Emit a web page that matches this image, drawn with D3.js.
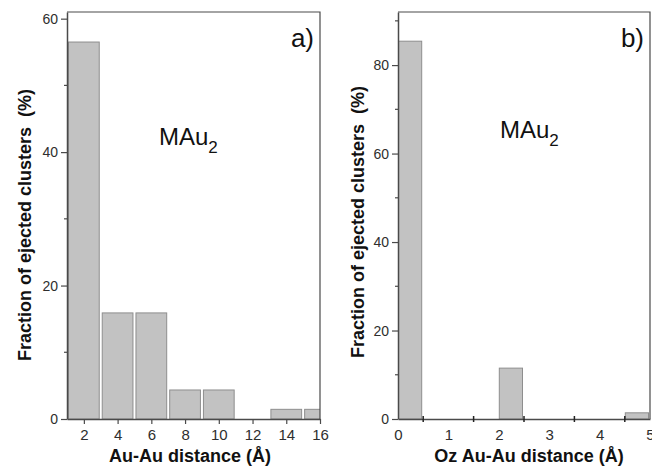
<!DOCTYPE html>
<html>
<head>
<meta charset="utf-8">
<script src="https://cdn.jsdelivr.net/npm/d3@7"></script>
<style>
  body { margin: 0; background: #fff; }
  svg { display: block; font-family: Arial, "Liberation Sans", sans-serif; }
</style>
</head>
<body>
<div id="chart"></div>
<script>
// panel a) Au-Au distance histogram
const distA = [2, 4, 6, 8, 10, 12, 14, 16];
const fracA = [56.5, 15.9, 15.9, 4.35, 4.35, 0, 1.45, 1.45];
const xTicksA = [2, 4, 6, 8, 10, 12, 14, 16];
const yTicksA = [0, 20, 40, 60];
const yMinorA = [10, 30, 50];

// panel b) Oz Au-Au distance histogram (bin starts, width 0.5)
const ozB = [0, 0.5, 1, 1.5, 2, 2.5, 3, 3.5, 4, 4.5];
const fracB = [85.4, 0, 0, 0, 11.5, 0, 0, 0, 0, 1.4];
const xTicksB = [0, 1, 2, 3, 4, 5];
const xMinorB = [0.5, 1.5, 2.5, 3.5, 4.5];
const yTicksB = [0, 20, 40, 60, 80];
const yMinorB = [10, 30, 50, 70, 90];

const width = 652;
const height = 468;
const plotTop = 12, plotBottom = 419;

const svg = d3.select("#chart")
              .append("svg")
              .attr("width", width)
              .attr("height", height);

const axisColor = "#4a4a4a";
const textColor = "#2e2e2e";

const drawPanel = (opt) => {
  const x = d3.scaleLinear().domain(opt.xDomain).range([opt.left, opt.right]);
  const y = d3.scaleLinear().domain(opt.yDomain).range([plotBottom, plotTop]);
  const g = svg.append("g");

  g.append("clipPath")
   .attr("id", "clip-" + opt.id)
   .append("rect")
   .attr("x", opt.left)
   .attr("y", plotTop)
   .attr("width", opt.right - opt.left)
   .attr("height", plotBottom - plotTop);

  // bars
  g.append("g")
   .attr("clip-path", `url(#clip-${opt.id})`)
   .selectAll("rect")
   .data(opt.bars.filter(d => d.v > 0))
   .enter()
   .append("rect")
   .attr("x", d => x(d.x0) + opt.gapL)
   .attr("y", d => y(d.v))
   .attr("width", d => x(d.x1) - x(d.x0) - opt.gapL - opt.gapR)
   .attr("height", d => y(0) - y(d.v))
   .attr("fill", "#c2c2c2")
   .attr("stroke", "#8e8e8e")
   .attr("stroke-width", 1);

  // frame (top and right)
  g.append("path")
   .attr("d", `M${opt.left},${plotTop}H${opt.right}V${plotBottom}`)
   .attr("fill", "none")
   .attr("stroke", axisColor)
   .attr("stroke-width", 1.2);

  // x axis
  const xAxis = g.append("g")
                 .attr("transform", `translate(0,${plotBottom})`)
                 .call(d3.axisBottom(x)
                         .tickValues(opt.xTicks)
                         .tickFormat(d3.format("d"))
                         .tickSize(opt.xTickSize)
                         .tickSizeOuter(0)
                         .tickPadding(opt.xTickSize > 0 ? 5 : 10));
  xAxis.select(".domain").attr("stroke", axisColor).attr("stroke-width", 1.5);
  xAxis.selectAll(".tick line").attr("stroke", axisColor).attr("stroke-width", 1.2);
  xAxis.selectAll("text").attr("fill", textColor).style("font-size", "15px");

  if (opt.xMinor) {
    g.selectAll(".xminor")
     .data(opt.xMinor)
     .enter()
     .append("line")
     .attr("x1", d => x(d)).attr("x2", d => x(d))
     .attr("y1", plotBottom - 3).attr("y2", plotBottom + 3)
     .attr("stroke", "#222")
     .attr("stroke-width", 1.5);
  }

  // y axis
  const yAxis = g.append("g")
                 .attr("transform", `translate(${opt.left},0)`)
                 .call(d3.axisLeft(y)
                         .tickValues(opt.yTicks)
                         .tickFormat(d3.format("d"))
                         .tickSize(6)
                         .tickSizeOuter(0)
                         .tickPadding(3));
  yAxis.select(".domain").attr("stroke", axisColor).attr("stroke-width", 1.5);
  yAxis.selectAll(".tick line").attr("stroke", axisColor).attr("stroke-width", 1.2);
  yAxis.selectAll("text").attr("fill", textColor).style("font-size", "14px");

  g.selectAll(".yminor")
   .data(opt.yMinor)
   .enter()
   .append("line")
   .attr("x1", opt.left - 3).attr("x2", opt.left)
   .attr("y1", d => y(d)).attr("y2", d => y(d))
   .attr("stroke", axisColor)
   .attr("stroke-width", 1.2);

  // axis titles
  g.append("text")
   .attr("x", opt.xTitleX)
   .attr("y", 462)
   .attr("text-anchor", "middle")
   .attr("font-weight", "bold")
   .attr("font-size", 18)
   .attr("fill", "#111")
   .text(opt.xTitle);

  g.append("text")
   .attr("transform", `translate(${opt.yTitleX},${opt.yTitleY}) rotate(-90)`)
   .attr("text-anchor", "middle")
   .attr("font-weight", "bold")
   .attr("font-size", 18)
   .attr("fill", "#111")
   .style("white-space", "pre")
   .text("Fraction of ejected clusters  (%)");

  // annotations
  const lab = g.append("text")
               .attr("x", opt.mX)
               .attr("y", opt.mY)
               .attr("font-size", 24)
               .attr("fill", "#111");
  lab.append("tspan").text("MAu");
  lab.append("tspan").attr("font-size", 17).attr("dy", 8).text("2");

  g.append("text")
   .attr("x", opt.right - 6)
   .attr("y", 47)
   .attr("text-anchor", "end")
   .attr("font-size", 26)
   .attr("fill", "#111")
   .text(opt.tag);
};

drawPanel({
  id: "a",
  left: 67, right: 320,
  xDomain: [1, 16], yDomain: [0, 61],
  bars: distA.map((c, i) => ({ x0: c - 1, x1: c + 1, v: fracA[i] })),
  gapL: 1.5, gapR: 1.5,
  xTicks: xTicksA, xTickSize: 5,
  yTicks: yTicksA, yMinor: yMinorA,
  xTitle: "Au-Au distance (Å)", xTitleX: 190,
  yTitleX: 31, yTitleY: 225,
  mX: 159, mY: 145, tag: "a)"
});

drawPanel({
  id: "b",
  left: 398, right: 650,
  xDomain: [0, 5], yDomain: [0, 92],
  bars: ozB.map((s, i) => ({ x0: s, x1: s + 0.5, v: fracB[i] })),
  gapL: 0.5, gapR: 1.5,
  xTicks: xTicksB, xTickSize: 0, xMinor: xMinorB,
  yTicks: yTicksB, yMinor: yMinorB,
  xTitle: "Oz Au-Au distance (Å)", xTitleX: 529,
  yTitleX: 364, yTitleY: 222,
  mX: 500, mY: 138, tag: "b)"
});
</script>
</body>
</html>
